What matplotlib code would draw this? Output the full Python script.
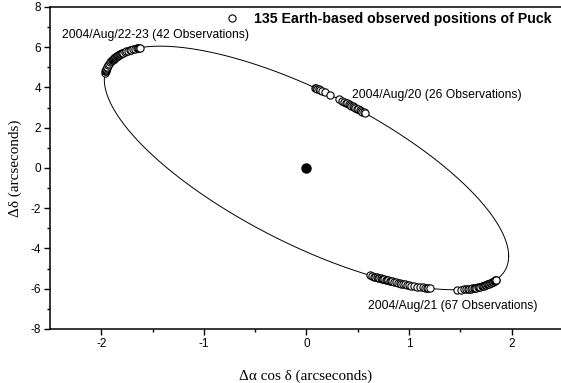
"""Earth-based observed positions of Puck, relative to Uranus-centred orbit."""

import numpy as np
import matplotlib.pyplot as plt

# Observed offsets (arcseconds): Δα cos δ and Δδ, one pair per observation.
AUG22_X = [-1.962, -1.959, -1.957, -1.955, -1.953, -1.951, -1.946, -1.940,
           -1.934, -1.923, -1.911, -1.903, -1.894, -1.889, -1.884, -1.879,
           -1.874, -1.868, -1.863, -1.857, -1.851, -1.845, -1.839, -1.833,
           -1.827, -1.820, -1.813, -1.807, -1.800, -1.793, -1.785, -1.771,
           -1.755, -1.739, -1.723, -1.706, -1.689, -1.671, -1.652, -1.643,
           -1.633, -1.624]
AUG22_Y = [4.728, 4.793, 4.825, 4.857, 4.888, 4.919, 4.980, 5.039,
           5.097, 5.181, 5.260, 5.312, 5.361, 5.386, 5.410, 5.433,
           5.456, 5.479, 5.501, 5.522, 5.544, 5.565, 5.585, 5.605,
           5.625, 5.645, 5.663, 5.682, 5.700, 5.717, 5.734, 5.767,
           5.798, 5.827, 5.855, 5.881, 5.904, 5.927, 5.947, 5.956,
           5.965, 5.974]

AUG20_X = [0.079, 0.093, 0.107, 0.120, 0.134, 0.151, 0.179, 0.230,
           0.312, 0.349, 0.369, 0.383, 0.396, 0.410, 0.423, 0.436,
           0.450, 0.463, 0.477, 0.490, 0.503, 0.517, 0.530, 0.543,
           0.556, 0.573]
AUG20_Y = [3.993, 3.961, 3.929, 3.897, 3.864, 3.824, 3.758, 3.632,
           3.427, 3.331, 3.277, 3.242, 3.206, 3.170, 3.134, 3.098,
           3.061, 3.025, 2.988, 2.952, 2.915, 2.877, 2.840, 2.803,
           2.765, 2.718]

AUG21_X = [0.617, 0.641, 0.658, 0.671, 0.683, 0.696, 0.709, 0.722,
           0.735, 0.748, 0.760, 0.773, 0.786, 0.798, 0.811, 0.823,
           0.836, 0.851, 0.870, 0.888, 0.907, 0.925, 0.943, 0.961,
           0.979, 1.000, 1.023, 1.050, 1.079, 1.110, 1.136, 1.158,
           1.175, 1.186, 1.199,
           1.471, 1.505, 1.535, 1.557, 1.573, 1.588, 1.602, 1.616,
           1.629, 1.643, 1.656, 1.669, 1.681, 1.694, 1.706, 1.718,
           1.730, 1.741, 1.752, 1.763, 1.772, 1.781, 1.790, 1.798,
           1.807, 1.813, 1.820, 1.827, 1.833, 1.839, 1.845, 1.850]
AUG21_Y = [-5.337, -5.371, -5.395, -5.414, -5.433, -5.452, -5.470, -5.487,
           -5.505, -5.522, -5.540, -5.556, -5.573, -5.589, -5.605, -5.621,
           -5.637, -5.655, -5.678, -5.700, -5.720, -5.741, -5.760, -5.780,
           -5.798, -5.818, -5.841, -5.865, -5.890, -5.916, -5.935, -5.951,
           -5.962, -5.969, -5.977,
           -6.047, -6.039, -6.029, -6.019, -6.010, -6.001, -5.991, -5.980,
           -5.969, -5.956, -5.943, -5.928, -5.913, -5.897, -5.880, -5.863,
           -5.844, -5.824, -5.804, -5.783, -5.764, -5.744, -5.724, -5.703,
           -5.682, -5.663, -5.644, -5.625, -5.605, -5.585, -5.565, -5.548]

# Projected orbit: x = X cos t, y = Y cos(t - phase)
ORBIT_X_EXTENT = 1.97
ORBIT_Y_EXTENT = 6.05
ORBIT_PHASE_DEG = 136.4

LABELS = ["2004/Aug/22-23 (42 Observations)",
          "2004/Aug/20 (26 Observations)",
          "2004/Aug/21 (67 Observations)"]
N_TOTAL = len(AUG22_X) + len(AUG20_X) + len(AUG21_X)

plt.rcParams["font.family"] = ["Liberation Sans", "DejaVu Sans"]
plt.rcParams["axes.unicode_minus"] = False

fig = plt.figure(figsize=(5.61, 3.83), dpi=100)
ax = fig.add_axes([0.089, 0.141, 0.911, 0.841])

t = np.radians(np.linspace(0, 360, 721))
ox = ORBIT_X_EXTENT * np.cos(t)
oy = ORBIT_Y_EXTENT * np.cos(t - np.radians(ORBIT_PHASE_DEG))
ax.plot(ox, oy, color="black", lw=0.7, zorder=1)

obs_style = dict(ls="none", marker="o", ms=5.2, mfc="white", mec="black",
                 mew=0.8, zorder=3)
ax.plot(AUG22_X, AUG22_Y, **obs_style,
        label=f"{N_TOTAL} Earth-based observed positions of Puck")
ax.plot(AUG20_X, AUG20_Y, **obs_style)
ax.plot(AUG21_X, AUG21_Y, **obs_style)

# Uranus at the origin
ax.plot([0], [0], marker="o", ms=6.5, color="black", zorder=4)

ax.text(-2.38, 6.62, LABELS[0], fontsize=8.7, va="center", ha="left")
ax.text(0.44, 3.62, LABELS[1], fontsize=8.7, va="center", ha="left")
ax.text(0.60, -6.87, LABELS[2], fontsize=8.7, va="center", ha="left")

leg = ax.legend(loc="upper right", bbox_to_anchor=(1.0, 1.015), frameon=False,
                handlelength=1.0, handletextpad=1.0, borderaxespad=0.3,
                prop=dict(size=10.2, weight="bold"))

ax.set_xlim(-2.5, 2.48)
ax.set_ylim(-8, 8)
ax.set_xticks([-2, -1, 0, 1, 2])
ax.set_xticks([-1.5, -0.5, 0.5, 1.5], minor=True)
ax.set_yticks(range(-8, 9, 2))
ax.set_yticks(range(-7, 8, 2), minor=True)
ax.tick_params(which="major", direction="out", length=4.5, width=1.0,
               labelsize=8.5, pad=2)
ax.tick_params(which="minor", direction="out", length=2.5, width=1.0)
ax.spines["right"].set_visible(False)
for s in ("left", "bottom", "top"):
    ax.spines[s].set_linewidth(1.1)

ax.set_xlabel("Δα cos δ (arcseconds)", family=["Liberation Serif"],
              fontsize=10.9, labelpad=14)
ax.set_ylabel("Δδ (arcseconds)", family=["Liberation Serif"],
              fontsize=10.9, labelpad=6)

fig.savefig("out.png", dpi=100)
